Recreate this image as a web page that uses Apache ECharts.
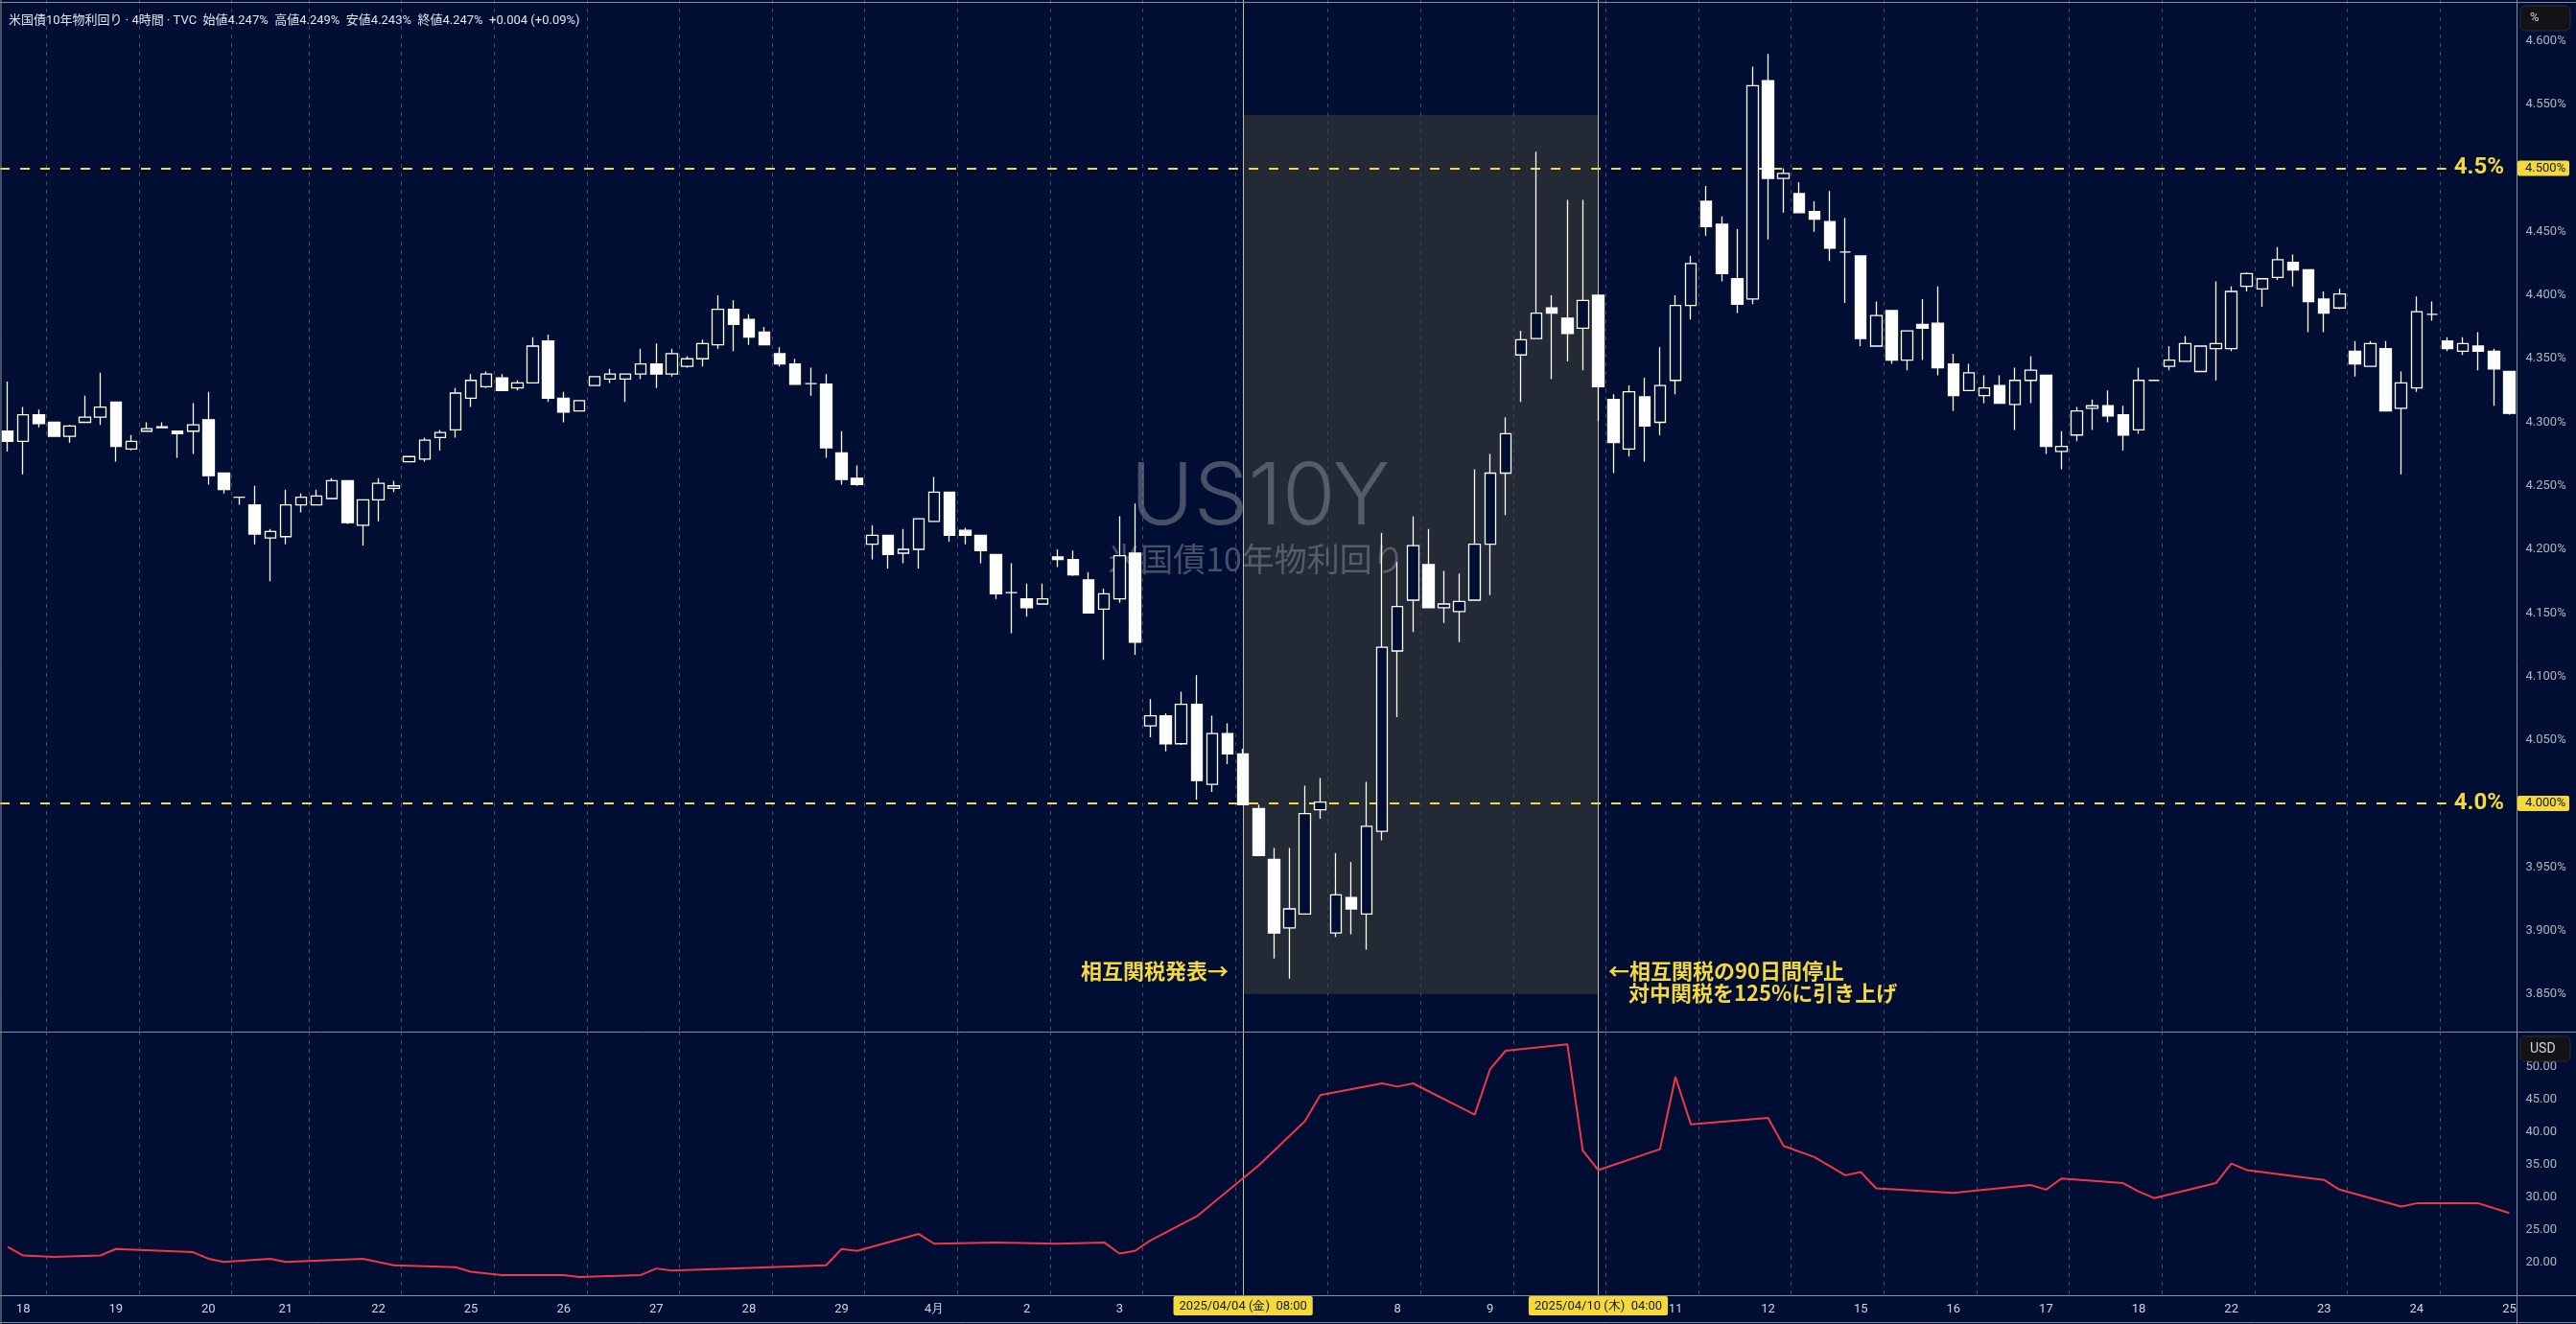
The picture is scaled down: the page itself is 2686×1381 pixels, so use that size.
<!DOCTYPE html>
<html><head><meta charset="utf-8">
<script src="https://cdn.jsdelivr.net/npm/echarts@6/dist/echarts.min.js"></script>
<style>html,body{margin:0;padding:0;background:#000e34;overflow:hidden}#c{width:2686px;height:1381px}</style>
</head><body><div id="c"></div>
<script>
// ---- data (4h candles of US10Y, %) ----
const opens = [4.293,4.285,4.306,4.300,4.289,4.300,4.304,4.316,4.279,4.293,4.2958,4.293,4.293,4.302,4.260,4.241,4.235,4.209,4.210,4.235,
4.235,4.240,4.254,4.219,4.239,4.248,4.269,4.271,4.288,4.294,4.319,4.328,4.335,4.327,4.331,4.364,4.319,4.309,4.329,4.334,
4.334,4.338,4.346,4.338,4.344,4.350,4.361,4.389,4.381,4.371,4.354,4.346,4.3304,4.330,4.276,4.256,4.204,4.211,4.197,4.200,
4.222,4.245,4.215,4.211,4.196,4.166,4.161,4.157,4.194,4.192,4.176,4.153,4.161,4.197,4.061,4.069,4.047,4.078,4.015,4.055,
4.039,3.996,3.956,3.902,3.913,3.995,3.898,3.926,3.913,3.978,4.120,4.160,4.188,4.154,4.151,4.160,4.204,4.260,4.353,4.366,
4.390,4.382,4.374,4.400,4.318,4.279,4.320,4.300,4.333,4.392,4.474,4.456,4.413,4.397,4.569,4.492,4.480,4.466,4.458,4.434,
4.431,4.360,4.388,4.349,4.377,4.378,4.346,4.325,4.321,4.329,4.314,4.333,4.337,4.277,4.290,4.311,4.313,4.306,4.294,4.333,
4.344,4.348,4.340,4.358,4.358,4.407,4.405,4.414,4.426,4.420,4.397,4.390,4.356,4.344,4.358,4.311,4.327,4.385,4.364,4.356,
4.360,4.356,4.340];
const highs = [4.332,4.312,4.310,4.300,4.298,4.321,4.339,4.316,4.290,4.300,4.300,4.293,4.315,4.324,4.260,4.241,4.250,4.216,4.247,4.244,
4.247,4.256,4.254,4.239,4.256,4.254,4.273,4.288,4.294,4.327,4.338,4.340,4.338,4.333,4.367,4.369,4.324,4.317,4.336,4.342,
4.338,4.358,4.362,4.358,4.352,4.365,4.400,4.396,4.385,4.375,4.359,4.350,4.343,4.338,4.293,4.266,4.219,4.211,4.216,4.224,
4.257,4.245,4.217,4.211,4.196,4.189,4.173,4.173,4.200,4.199,4.182,4.169,4.226,4.236,4.082,4.071,4.088,4.101,4.069,4.063,
4.043,3.999,3.965,3.965,4.014,4.020,3.961,3.954,4.017,4.213,4.190,4.226,4.216,4.183,4.181,4.263,4.275,4.304,4.372,4.513,
4.400,4.475,4.475,4.400,4.322,4.329,4.335,4.359,4.400,4.431,4.486,4.462,4.452,4.580,4.590,4.500,4.489,4.474,4.482,4.461,
4.431,4.395,4.388,4.372,4.397,4.407,4.354,4.346,4.337,4.337,4.343,4.352,4.337,4.293,4.312,4.318,4.325,4.313,4.343,4.333,
4.360,4.368,4.360,4.411,4.407,4.418,4.413,4.438,4.432,4.420,4.403,4.405,4.364,4.364,4.364,4.340,4.399,4.395,4.367,4.367,
4.371,4.358,4.340];
const lows = [4.277,4.259,4.296,4.289,4.284,4.300,4.298,4.269,4.278,4.293,4.2958,4.272,4.275,4.251,4.244,4.235,4.204,4.175,4.204,4.229,
4.235,4.240,4.220,4.203,4.222,4.245,4.269,4.269,4.278,4.288,4.312,4.327,4.325,4.325,4.331,4.316,4.300,4.309,4.329,4.331,
4.316,4.334,4.327,4.336,4.343,4.344,4.358,4.356,4.361,4.361,4.344,4.330,4.321,4.272,4.251,4.250,4.192,4.185,4.189,4.185,
4.222,4.206,4.204,4.189,4.161,4.134,4.147,4.157,4.186,4.179,4.150,4.113,4.158,4.117,4.052,4.041,4.046,4.003,4.009,4.031,
3.999,3.959,3.878,3.862,3.913,3.988,3.895,3.897,3.885,3.971,4.068,4.135,4.154,4.142,4.127,4.160,4.164,4.227,4.316,4.366,
4.334,4.348,4.341,4.301,4.260,4.273,4.269,4.290,4.322,4.381,4.447,4.411,4.386,4.393,4.444,4.465,4.465,4.450,4.427,4.394,
4.360,4.360,4.346,4.341,4.349,4.337,4.309,4.325,4.315,4.315,4.294,4.315,4.275,4.263,4.285,4.294,4.300,4.278,4.291,4.333,
4.341,4.348,4.340,4.333,4.356,4.403,4.391,4.412,4.407,4.371,4.371,4.389,4.336,4.344,4.309,4.259,4.324,4.380,4.356,4.353,
4.341,4.313,4.306];
const closes = [4.285,4.306,4.299,4.289,4.297,4.304,4.312,4.281,4.285,4.295,4.2965,4.291,4.298,4.258,4.247,4.241,4.212,4.214,4.235,4.241,
4.242,4.254,4.221,4.239,4.252,4.250,4.273,4.286,4.292,4.323,4.333,4.338,4.325,4.331,4.360,4.319,4.308,4.317,4.336,4.338,
4.338,4.346,4.338,4.354,4.350,4.362,4.389,4.377,4.367,4.361,4.346,4.330,4.3304,4.280,4.255,4.251,4.211,4.196,4.200,4.224,
4.245,4.211,4.211,4.199,4.165,4.166,4.154,4.161,4.192,4.180,4.150,4.165,4.195,4.127,4.069,4.047,4.078,4.018,4.055,4.039,
3.999,3.959,3.898,3.917,3.992,4.001,3.928,3.917,3.982,4.123,4.155,4.203,4.154,4.157,4.159,4.204,4.260,4.291,4.365,4.386,
4.386,4.370,4.396,4.328,4.284,4.324,4.297,4.329,4.392,4.425,4.454,4.417,4.393,4.565,4.492,4.496,4.465,4.460,4.437,4.434,
4.366,4.384,4.349,4.372,4.374,4.343,4.321,4.339,4.327,4.315,4.333,4.341,4.281,4.281,4.309,4.313,4.305,4.290,4.333,4.333,
4.349,4.362,4.360,4.362,4.403,4.417,4.413,4.428,4.420,4.395,4.386,4.401,4.346,4.362,4.309,4.331,4.387,4.385,4.358,4.362,
4.356,4.342,4.307];

// date tick labels (candle index, text)
const dayTickIndex = [1,7,13,18,24,30,36,42,48,54,60,66,72,90,96,108,114,120,126,132,138,144,150,156,162];
const dayTickText  = ['18','19','20','21','22','25','26','27','28','29','4月','2','3','8','9','11','12','15','16','17','18','22','23','24','25'];
// vertical grid lines: left boundary of these candle indices
const dayBoundaryIndex = [3,9,15,20,26,32,38,44,50,56,62,68,74,80,86,92,98,104,110,116,122,128,134,140,146,152,158];
// axis tick labels
const yTicksMain = [3.85,3.90,3.95,4.00,4.05,4.10,4.15,4.20,4.25,4.30,4.35,4.40,4.45,4.50,4.55,4.60];
const yTicksSub = [20,25,30,35,40,45,50];
// lower panel line (candle index, value)
const vixIdx = [0,1,3,6,7,12,13,14,17,18,23,25,29,30,32,36,37,41,42,43,53,54,55,59,60,64,68,71,72,73,74,77,81,84,85,89,90,91,95,96,97,101,102,103,107,108,109,114,115,117,119,120,121,126,131,132,133,137,138,139,143,144,145,150,151,155,156,160,162];
const vixVal = [22.4,21.1,20.9,21.1,22.1,21.6,20.6,20.1,20.6,20.1,20.6,19.6,19.3,18.6,18.1,18.1,17.8,18.1,19.1,18.8,19.6,22.1,21.8,24.4,22.9,23.1,22.9,23.1,21.4,21.8,23.4,27.1,34.9,41.7,45.7,47.5,47.0,47.5,42.7,49.7,52.5,53.5,37.2,34.2,37.4,48.5,41.2,42.2,37.9,36.2,33.4,33.9,31.4,30.7,31.9,31.2,32.9,32.2,30.9,29.9,32.2,35.2,34.2,32.7,31.2,28.6,29.1,29.1,27.6];
// event markers
const event1Index = 80, event1Label = '2025/04/04 (金)  08:00';
const event2Index = 103, event2Label = '2025/04/10 (木)  04:00';
const levelLines = [4.5, 4.0];
const levelText = ['4.5%','4.0%'];
const zoneLow = 3.85, zoneHigh = 4.542;

// ---- build ----
const BG = '#000e34';
const YEL = '#f5d93b';
const N = opens.length;
const categories = new Array(N).fill('');
dayTickIndex.forEach((idx,i)=>{ categories[idx] = dayTickText[i]; });
const candleData = opens.map((o,i)=>[o, closes[i], lows[i], highs[i]]);
const boundarySet = new Set(dayBoundaryIndex);
const vixData = vixIdx.map((x,i)=>[x, vixVal[i]]);
const splitLineStyle = {show:true, interval:(i)=>boundarySet.has(i), lineStyle:{color:'#3e4b6c', type:[4,5], width:1}};
const GL = -4.67, GR = 61.5;

const chart = echarts.init(document.getElementById('c'), null, {renderer:'canvas', width:2686, height:1381});
const markLineMain = [];
levelLines.forEach((v)=>{
  markLineMain.push({yAxis:v, lineStyle:{color:YEL, type:[10,11], width:2}, label:{show:false}});
});
[event1Index, event2Index].forEach(ix=>{
  markLineMain.push({xAxis:ix, lineStyle:{color:'#c4c0a0', type:'solid', width:1}, label:{show:false}});
});
const dateLabel = (txt)=>({show:true, position:'start', distance:1, formatter:txt, backgroundColor:YEL, color:'#131722', padding:[4,6,3,6], borderRadius:2, fontSize:13, fontFamily:'Roboto'});

const option = {
  backgroundColor: BG,
  animation:false,
  grid:[{left:GL, right:GR, top:0, height:1076},{left:GL, right:GR, top:1076, height:275}],
  xAxis:[
    {type:'category', gridIndex:0, data:categories, boundaryGap:true, axisLine:{show:false}, axisTick:{show:false}, axisLabel:{show:false}, splitLine:splitLineStyle},
    {type:'category', gridIndex:1, data:categories, boundaryGap:true, axisLine:{show:true, lineStyle:{color:'#8a8f9c', width:1}}, axisTick:{show:false},
      axisLabel:{show:true, interval:(i,v)=>v!=='', color:'#d1d4dc', fontSize:13, margin:8, fontFamily:'Roboto'}, splitLine:splitLineStyle}
  ],
  yAxis:[
    {type:'value', gridIndex:0, position:'right', min:3.82038, max:4.63245, axisLine:{show:false}, axisTick:{show:false}, splitLine:{show:false},
      axisLabel:{customValues:yTicksMain, formatter:(v)=>v.toFixed(3)+'%', color:'#b2b5be', fontSize:13, margin:9, fontFamily:'Roboto'}},
    {type:'value', gridIndex:1, position:'right', min:15.0, max:55.44, axisLine:{show:false}, axisTick:{show:false}, splitLine:{show:false},
      axisLabel:{customValues:yTicksSub, formatter:(v)=>v.toFixed(2), color:'#b2b5be', fontSize:13, margin:9, fontFamily:'Roboto'}}
  ],
  series:[
    {type:'line', xAxisIndex:0, yAxisIndex:0, data:[], z:1, silent:true,
      markArea:{silent:true, itemStyle:{color:'rgba(58,62,55,0.6)'}, data:[[{xAxis:event1Index, yAxis:zoneLow},{xAxis:event2Index, yAxis:zoneHigh}]]}},
    {type:'candlestick', xAxisIndex:0, yAxisIndex:0, data:candleData, barWidth:12, z:5,
      itemStyle:{color:BG, color0:'#ffffff', borderColor:'#ffffff', borderColor0:'#ffffff', borderColorDoji:'#ffffff', borderWidth:1.3},
      markLine:{symbol:'none', silent:true, animation:false, data:markLineMain}},
    {type:'line', xAxisIndex:1, yAxisIndex:1, data:vixData, showSymbol:false, z:5, lineStyle:{color:'#f23645', width:2}, itemStyle:{color:'#f23645'},
      markLine:{symbol:'none', silent:true, animation:false, data:[
        {xAxis:event1Index, lineStyle:{color:'#c4c0a0', type:'solid', width:1}, label:dateLabel(event1Label)},
        {xAxis:event2Index, lineStyle:{color:'#c4c0a0', type:'solid', width:1}, label:dateLabel(event2Label)}
      ]}}
  ],
  graphic:[
    {type:'text', z:3, x:1314, y:520, style:{text:'US10Y', fill:'rgba(130,135,145,0.55)', font:'300 90px Inter, Roboto, sans-serif', textAlign:'center', textVerticalAlign:'middle'}},
    {type:'text', z:3, x:1310, y:583, style:{text:'米国債10年物利回り', fill:'rgba(130,135,145,0.55)', font:'34px "Noto Sans CJK JP"', textAlign:'center', textVerticalAlign:'middle'}},
    {type:'text', z:10, x:9, y:22, style:{text:'米国債10年物利回り · 4時間 · TVC  始値4.247%  高値4.249%  安値4.243%  終値4.247%  +0.004 (+0.09%)', fill:'#e0e3eb', font:'13px Roboto, "Noto Sans CJK JP"', textVerticalAlign:'middle'}},
    {type:'text', z:10, x:1281, y:1013, style:{text:'相互関税発表→', fill:YEL, font:'bold 22px "Noto Sans CJK JP"', textAlign:'right', textVerticalAlign:'middle'}},
    {type:'text', z:10, x:1677, y:1013, style:{text:'←相互関税の90日間停止', fill:YEL, font:'bold 22px "Noto Sans CJK JP"', textAlign:'left', textVerticalAlign:'middle'}},
    {type:'text', z:10, x:1698, y:1036, style:{text:'対中関税を125%に引き上げ', fill:YEL, font:'bold 22px "Noto Sans CJK JP"', textAlign:'left', textVerticalAlign:'middle'}},
    {type:'line', z:10, shape:{x1:0, y1:1076.5, x2:2686, y2:1076.5}, style:{stroke:'#8a8f9c', lineWidth:1}},
    {type:'line', z:10, shape:{x1:0, y1:1351.5, x2:2686, y2:1351.5}, style:{stroke:'#8a8f9c', lineWidth:1}},
    {type:'line', z:10, shape:{x1:0, y1:1379.5, x2:2686, y2:1379.5}, style:{stroke:'#8a8f9c', lineWidth:1}},
    {type:'line', z:10, shape:{x1:0, y1:2.5, x2:2686, y2:2.5}, style:{stroke:'#8a8f9c', lineWidth:1}},
    {type:'line', z:10, shape:{x1:1, y1:0, x2:1, y2:1381}, style:{stroke:'#8a8f9c', lineWidth:1}},
    {type:'line', z:10, shape:{x1:2624.5, y1:0, x2:2624.5, y2:1381}, style:{stroke:'#8a8f9c', lineWidth:1}},
    {type:'rect', z:11, shape:{x:2628, y:6, width:52, height:26, r:5}, style:{fill:'#131316', stroke:'#2a2e39'}},
    {type:'text', z:12, x:2638, y:19, style:{text:'%', fill:'#d1d4dc', font:'13px Roboto', textVerticalAlign:'middle'}},
    {type:'rect', z:11, shape:{x:2628, y:1081, width:52, height:26, r:5}, style:{fill:'#131316', stroke:'#2a2e39'}},
    {type:'text', z:12, x:2638, y:1094, style:{text:'USD', fill:'#d1d4dc', font:'14px Roboto', textVerticalAlign:'middle'}}
  ]
};
chart.setOption(option);

// level labels placed through the axis scale
const extra = [];
levelLines.forEach((v,i)=>{
  const y = chart.convertToPixel({yAxisIndex:0}, v);
  extra.push({type:'text', z:12, x:2617, y:y, style:{text:levelText[i], fill:YEL, font:'bold 24px Roboto, sans-serif', textAlign:'right', textVerticalAlign:'middle', backgroundColor:BG, padding:[2,6,0,8]}});
  extra.push({type:'rect', z:12, shape:{x:2625, y:y-8, width:54, height:16, r:2}, style:{fill:YEL}});
  extra.push({type:'text', z:13, x:2633, y:y, style:{text:v.toFixed(3)+'%', fill:'#131722', font:'13px Roboto', textVerticalAlign:'middle'}});
});
chart.setOption({graphic: option.graphic.concat(extra)});
</script></body></html>
